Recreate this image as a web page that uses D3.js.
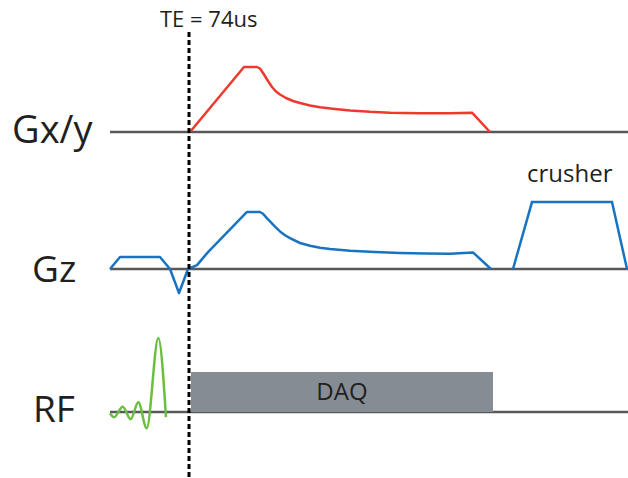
<!DOCTYPE html>
<html>
<head>
<meta charset="utf-8">
<script src="https://cdn.jsdelivr.net/npm/d3@7"></script>
<style>
  body { margin: 0; background: #fff; }
  text { font-family: "Open Sans", sans-serif; fill: #231f20; }
</style>
</head>
<body>
<svg width="628" height="478"></svg>
<script>
// channels, top to bottom
var channels = ["Gx/y", "Gz", "RF"];

// time (arbitrary units) and amplitude (normalised) of each waveform
var gxyTime = [82, 136, 149, 152, 156, 160, 164, 168, 172, 178, 185, 192, 202, 212, 227, 242, 262, 282, 312, 342, 364, 382];
var gxyAmp  = [0, 1.0, 1.0, 0.977, 0.885, 0.785, 0.692, 0.623, 0.577, 0.523, 0.477, 0.446, 0.408, 0.382, 0.354, 0.331, 0.311, 0.298, 0.289, 0.289, 0.297, 0];

var gzTime = [2, 12, 52, 62, 71, 80, 89, 100, 139, 152, 155, 158, 162, 167, 172, 177, 182, 192, 202, 212, 222, 242, 267, 292, 317, 342, 365, 383];
var gzAmp  = [0, 0.185, 0.185, 0, -0.37, 0, 0.06, 0.26, 0.877, 0.877, 0.85, 0.797, 0.732, 0.651, 0.578, 0.52, 0.474, 0.40, 0.358, 0.328, 0.308, 0.282, 0.262, 0.246, 0.238, 0.235, 0.255, 0];

var crusherTime = [405, 424, 504, 519];
var crusherAmp  = [0, 1.03, 1.03, 0];

var rfTime = [2, 6, 14.7, 22.7, 30.3, 38.7, 50.3, 58];
var rfAmp  = [-0.02, -0.08, 0.08, -0.11, 0.15, -0.25, 1.14, -0.08];

// data acquisition window and echo time marker
var daqStart = 83, daqEnd = 385, daqAmp = 0.615;
var teTime = 81;
var teLabel = "TE = 74us";
var crusherLabel = "crusher";
var daqLabel = "DAQ";

var svg = d3.select("svg");

var x = d3.scaleLinear().domain([0, 520]).range([108, 628]);
var base = d3.scaleOrdinal().domain(channels).range([132, 269, 412]);
var amp = d3.scaleLinear().domain([0, 1]).range([0, -65]);

function wave(channel, curve) {
  return d3.line()
    .x(function(d){ return x(d[0]); })
    .y(function(d){ return base(channel) + amp(d[1]); })
    .curve(curve || d3.curveLinear);
}

// baselines
svg.selectAll(".base")
  .data(channels)
  .enter()
  .append("line")
  .attr("x1", x(2))
  .attr("x2", x(520))
  .attr("y1", function(d){ return base(d); })
  .attr("y2", function(d){ return base(d); })
  .attr("stroke", "#58585a")
  .attr("stroke-width", 2.5);

// channel labels
var labelX = [12, 32, 33];
var labelY = [143, 282, 422];
svg.selectAll(".label")
  .data(channels)
  .enter()
  .append("text")
  .attr("x", function(d, i){ return labelX[i]; })
  .attr("y", function(d, i){ return labelY[i]; })
  .attr("font-size", function(d, i){ return i == 0 ? 38 : 37; })
  .text(function(d){ return d; });

// DAQ window
svg.append("rect")
  .attr("x", x(daqStart))
  .attr("y", base("RF") + amp(daqAmp))
  .attr("width", x(daqEnd) - x(daqStart))
  .attr("height", -amp(daqAmp))
  .attr("fill", "#868c93");

svg.append("text")
  .attr("x", (x(daqStart) + x(daqEnd)) / 2)
  .attr("y", 399.5)
  .attr("text-anchor", "middle")
  .attr("font-size", 24)
  .text(daqLabel);

// waveforms
svg.append("path")
  .attr("d", wave("Gx/y")(d3.zip(gxyTime, gxyAmp)))
  .attr("fill", "none")
  .attr("stroke", "#ee3a2e")
  .attr("stroke-width", 2.5)
  .attr("stroke-linejoin", "round");

svg.append("path")
  .attr("d", wave("Gz")(d3.zip(gzTime, gzAmp)))
  .attr("fill", "none")
  .attr("stroke", "#1874c1")
  .attr("stroke-width", 2.5)
  .attr("stroke-linejoin", "round");

svg.append("path")
  .attr("d", wave("Gz")(d3.zip(crusherTime, crusherAmp)))
  .attr("fill", "none")
  .attr("stroke", "#1874c1")
  .attr("stroke-width", 2.5);

svg.append("text")
  .attr("x", x(419))
  .attr("y", 182)
  .attr("font-size", 24)
  .text(crusherLabel);

svg.append("path")
  .attr("d", wave("RF", d3.curveMonotoneX)(d3.zip(rfTime, rfAmp)))
  .attr("fill", "none")
  .attr("stroke", "#6abf3f")
  .attr("stroke-width", 2.5);

// echo time marker
svg.append("line")
  .attr("x1", x(teTime))
  .attr("x2", x(teTime))
  .attr("y1", 32)
  .attr("y2", 478)
  .attr("stroke", "#000")
  .attr("stroke-width", 3)
  .attr("stroke-dasharray", "5,3");

svg.append("text")
  .attr("x", 160)
  .attr("y", 27)
  .attr("font-size", 22)
  .text(teLabel);
</script>
</body>
</html>
